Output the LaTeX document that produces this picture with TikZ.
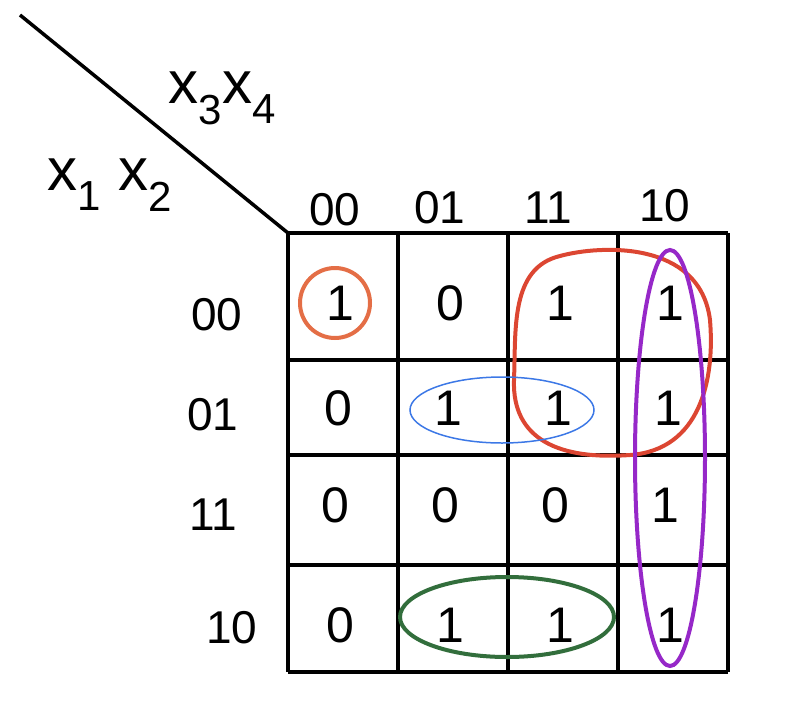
\documentclass[tikz,border=0pt]{standalone}
\usepackage{fontspec}
\setmainfont{Liberation Sans}
\begin{document}
\begin{tikzpicture}[x=1pt,y=-1pt,
  grid/.style={line width=3.5pt,black},
  val/.style={font=\fontsize{50}{50}\selectfont},
  hdr/.style={font=\fontsize{46}{46}\selectfont},
  lab/.style={font=\fontsize{60}{60}\selectfont},
  loop/.style={line width=4pt}]
\useasboundingbox (0,0) rectangle (812,724);
\definecolor{corange}{RGB}{228,110,70}
\definecolor{cred}{RGB}{220,70,50}
\definecolor{cblue}{RGB}{60,120,230}
\definecolor{cpurple}{RGB}{150,40,200}
\definecolor{cgreen}{RGB}{50,110,60}
\coordinate (d0) at (20,15);
\coordinate (d1) at (288,233);
\draw[line width=3.5pt] (d0) -- (d1);
\foreach \x in {288,398,508,618,728} \draw[grid] (\x,233) -- (\x,672);
\foreach \y in {233,360,455,565,672} \draw[grid] (288,\y) -- (728,\y);
\node[lab] (x34) at (222,98) {x\textsubscript{3}x\textsubscript{4}};
\node[lab] (x12) at (110,185) {x\textsubscript{1} x\textsubscript{2}};
\node[hdr] (c0) at (335,210) {00};
\node[hdr] (c1) at (440,208) {01};
\node[hdr] (c2) at (548,208) {11};
\node[hdr] (c3) at (665,206) {10};
\node[hdr] (r0) at (217,315) {00};
\node[hdr] (r1) at (213,415) {01};
\node[hdr] (r2) at (213,515) {11};
\node[hdr] (r3) at (232,628) {10};
\foreach \v [count=\i from 0] in {1,0,1,1} \node[val] (a\i) at ({340+110*\i},303) {\v};
\foreach \v [count=\i from 0] in {0,1,1,1} \node[val] (b\i) at ({338+110*\i},408) {\v};
\foreach \v [count=\i from 0] in {0,0,0,1} \node[val] (e\i) at ({335+110*\i},505) {\v};
\foreach \v [count=\i from 0] in {0,1,1,1} \node[val] (f\i) at ({340+110*\i},625) {\v};
\draw[loop,corange] (335,303) circle (35);
\draw[loop,cred] (560,256) .. controls (600,245) and (700,240) .. (710,320)
  .. controls (715,380) and (700,450) .. (630,455)
  .. controls (560,460) and (512,440) .. (514,380)
  .. controls (516,330) and (510,268) .. (560,256) -- cycle;
\draw[line width=1.5pt,cblue] (502,410) ellipse (92 and 33);
\draw[loop,cpurple] (670,458) ellipse (35 and 208);
\draw[loop,cgreen] (507,617) ellipse (107 and 40);
\end{tikzpicture}
\end{document}
